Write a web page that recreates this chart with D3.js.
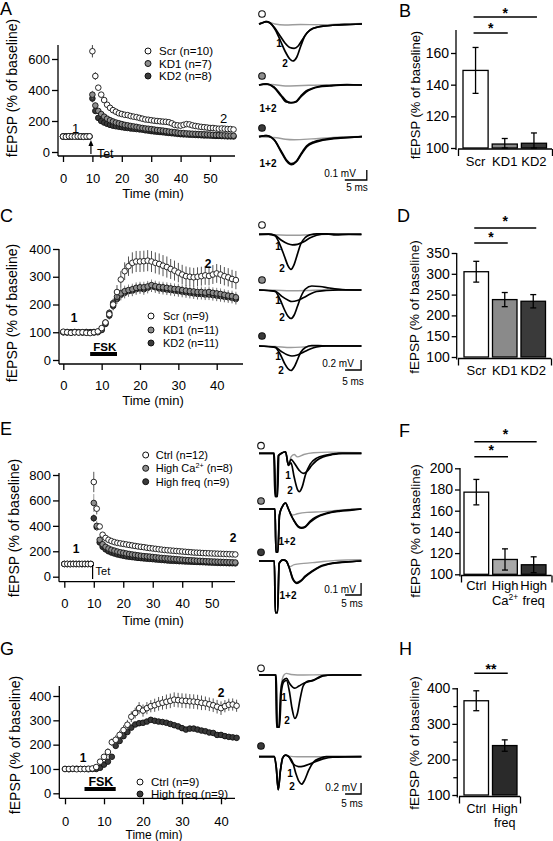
<!DOCTYPE html>
<html><head><meta charset="utf-8">
<script src="https://cdn.jsdelivr.net/npm/d3@7/dist/d3.min.js"></script>
<style>html,body{margin:0;padding:0;background:#fff;}svg{display:block;}</style>
</head><body>
<svg id="fig" width="553" height="841"></svg>
<script>
// ===================== DATA =====================
// Time-course values, one per minute (index = minute)
const aScr = [100,98,102,100,99,101,100,98,100,101, 650,490,415,370,335,305,285,270,260,250, 245,240,238,232,228,225,220,215,210,208, 205,202,200,198,196,195,192,185,175,172, 170,175,180,178,172,168,165,162,160,158, 155,155,152,150,152,150,148,148,145];
const aScrErr = [5,5,5,5,5,5,5,5,5,5, 40,25,15,12,10,10,9,9,8,8, 8,8,8,8,8,8,8,8,8,8, 8,8,8,8,8,8,8,8,8,8, 8,8,8,8,8,8,8,8,8,8, 8,8,8,8,8,8,8,8,8];
const aKD1 = [100,101,99,100,100,99,101,100,99,100, 370,300,265,245,228,215,205,197,190,185, 180,175,172,168,165,162,158,155,152,150, 148,145,142,140,138,135,132,130,128,125, 122,122,120,119,118,117,116,115,114,113, 112,111,110,109,108,107,106,106,105];
const aKD2 = [100,99,100,101,100,100,99,100,101,100, 345,265,220,200,190,182,175,170,166,163, 160,157,155,152,150,148,146,144,140,138, 135,133,131,129,127,125,123,121,119,117, 115,114,113,112,111,110,109,108,107,107, 106,105,104,104,103,102,101,101,100];
const aKDErr = [4,4,4,4,4,4,4,4,4,4, 25,18,12,10,8,8,8,8,8,8, 8,8,8,8,8,8,8,8,8,8, 8,8,8,8,8,8,8,8,8,8, 8,8,8,8,8,8,8,8,8,8, 8,8,8,8,8,8,8,8,8];

const cScr = [102,100,98,100,99,100,98,97,100,103, 115,135,165,200,245,290,320,338,350,355, 355,356,358,355,350,346,340,335,328,322, 315,308,302,300,298,300,302,305,303,308, 312,308,302,298,292,288];
const cScrErr = [8,8,8,8,8,8,8,8,8,8, 10,12,15,20,25,30,32,35,38,38, 38,38,38,38,38,38,38,38,36,36, 35,35,35,34,34,34,34,34,34,34, 34,34,33,33,33,33];
const cKD1 = [100,101,99,100,100,99,101,100,99,102, 110,135,170,205,228,240,248,252,255,260, 262,262,265,270,266,263,262,260,258,256, 255,252,250,248,247,245,245,243,245,242, 240,238,235,232,230,226];
const cKD2 = [100,99,100,101,100,100,99,100,101,100, 108,130,160,195,220,235,242,248,250,255, 258,255,260,265,262,258,256,254,252,250, 248,246,244,242,240,238,238,236,236,234, 232,230,228,226,224,220];
const cKDErr = [5,5,5,5,5,5,5,5,5,6, 8,10,14,16,18,20,20,20,20,20, 20,20,20,20,20,20,20,20,20,20, 20,20,20,20,20,20,20,20,20,20, 20,20,20,20,20,20];

const eCtrl = [100,101,99,100,100,99,101,100,99,100, 745,535,395,330,305,290,280,272,266,262, 258,254,250,246,242,238,235,232,228,225, 222,219,216,213,210,208,206,204,202,200, 198,196,194,192,190,189,188,186,185,184, 183,182,181,180,179,178,177,176,175];
const eCtrlErr = [5,5,5,5,5,5,5,5,5,5, 80,45,20,15,12,10,10,9,9,9, 9,9,9,9,9,9,9,9,9,9, 9,9,9,9,9,9,9,9,9,9, 9,9,9,9,9,9,9,9,9,9, 9,9,9,9,9,9,9,9,9];
const eCa = [100,99,101,100,100,101,99,100,100,100, 580,400,290,255,235,222,212,205,198,192, 188,183,179,175,172,168,165,162,160,158, 155,153,150,148,146,144,142,140,138,136, 134,132,130,129,128,126,125,124,122,121, 120,119,118,117,116,115,114,113,112];
const eCaErr = [5,5,5,5,5,5,5,5,5,5, 70,40,20,12,10,9,9,8,8,8, 8,8,8,8,8,8,8,8,8,8, 8,8,8,8,8,8,8,8,8,8, 8,8,8,8,8,8,8,8,8,8, 8,8,8,8,8,8,8,8,8];
const eHF = [100,100,99,101,100,100,99,100,101,100, 460,390,270,235,215,200,190,182,175,170, 165,160,157,154,151,148,146,144,142,140, 138,136,134,132,130,128,126,125,124,122, 121,120,119,118,117,116,115,114,113,112, 111,110,109,108,108,107,106,106,105];
const eHFErr = [5,5,5,5,5,5,5,5,5,5, 30,30,15,10,9,8,8,8,8,8, 8,8,8,8,8,8,8,8,8,8, 8,8,8,8,8,8,8,8,8,8, 8,8,8,8,8,8,8,8,8,8, 8,8,8,8,8,8,8,8,8];

const gCtrl = [100,100,101,99,100,100,101,102,108,130, 150,170,210,220,240,260,282,315,330,350, 340,350,358,362,368,372,376,380,385,383, 381,380,378,377,375,372,370,366,362,356, 350,358,364,365,360];
const gCtrlErr = [5,5,5,5,5,5,5,5,8,10, 12,15,15,18,18,20,20,22,22,25, 25,25,25,27,28,28,30,30,30,30, 30,30,30,30,30,30,28,28,28,28, 28,25,25,25,25];
const gHF = [100,99,100,101,100,100,99,100,100,105, 118,130,150,195,215,235,252,270,283,288, 290,295,302,298,295,293,290,285,280,275, 268,262,266,266,262,258,255,250,248,240, 240,235,232,230,228];
const gHFErr = [4,4,4,4,4,4,4,4,4,5, 6,8,10,10,10,10,10,10,10,10, 10,10,10,10,10,10,10,10,10,10, 10,10,10,10,10,10,10,10,10,10, 10,10,10,10,10];

// Axis ticks
const ticksA_y = [0,200,400,600], ticksA_x = [0,10,20,30,40,50];
const ticksC_y = [0,100,200,300,400], ticksC_x = [0,10,20,30,40];
const ticksE_y = [0,200,400,600,800], ticksE_x = [0,10,20,30,40,50];
const ticksG_y = [0,100,200,300,400], ticksG_x = [0,10,20,30,40];

// Bar charts
const bCats = ['Scr','KD1','KD2'], bVals = [149,102.5,103], bErr = [14.5,3.5,6.5];
const bTicks = [100,120,140,160];
const dCats = ['Scr','KD1','KD2'], dVals = [305,238,234], dErr = [25,17,16];
const dTicks = [100,150,200,250,300,350];
const fCats = ['Ctrl','HighCa','HighFreq'], fVals = [177.5,114,109], fErr = [12,10,7.5];
const fTicks = [100,120,140,160,180,200];
const hCats = ['Ctrl','HighFreq'], hVals = [365,239], hErr = [28,16];
const hTicks = [100,150,200,250,300,350,400];

// Example traces [ms, mV relative to baseline]
const trA_scr_g = [[0,0],[1.6,0.023],[2.5,0.015],[3.6,0],[5.9,-0.01],[9.4,-0.005],[14,-0.008],[18.4,0],[23.4,0.005]];
const trA_scr_1 = [[0,0],[0.7,0.01],[1.6,0.023],[2.5,0.01],[3.6,-0.04],[4.8,-0.12],[5.9,-0.19],[7.0,-0.235],[8.0,-0.243],[8.9,-0.22],[9.8,-0.16],[10.9,-0.09],[12,-0.05],[13.4,-0.03],[15,-0.02],[17.3,-0.01],[20.7,-0.005],[23.4,0]];
const trA_scr_2 = [[0,0],[0.7,0.01],[1.6,0.023],[2.5,0.01],[3.6,-0.05],[4.8,-0.16],[5.9,-0.27],[7.0,-0.35],[7.7,-0.37],[8.6,-0.33],[9.5,-0.22],[10.4,-0.12],[11.6,-0.06],[13.4,-0.03],[15,-0.02],[17.3,-0.01],[20.7,-0.005],[23.4,0]];
const trA_kd1_g = [[0,0],[3,0.005],[6,-0.01],[10,-0.005],[15,0],[23.4,0]];
const trA_kd1_1 = [[0,0],[1.6,0.01],[3.4,-0.02],[5,-0.1],[6.2,-0.16],[7.3,-0.18],[8.4,-0.17],[9.5,-0.12],[10.7,-0.07],[12,-0.04],[13.6,-0.02],[16,-0.01],[20,0],[23.4,0]];
const trA_kd1_2 = [[0,0],[1.6,0.012],[3.4,-0.025],[5,-0.11],[6.2,-0.17],[7.3,-0.175],[8.4,-0.165],[9.5,-0.11],[10.7,-0.06],[12,-0.035],[13.6,-0.015],[16,-0.005],[20,0.005],[23.4,0]];
const trA_kd2_g = [[0,0],[4,-0.01],[6,-0.025],[8,-0.03],[12,-0.022],[16,-0.01],[20,0],[23.4,0.003]];
const trA_kd2_1 = [[0,0],[1.6,0.01],[3.4,-0.03],[5,-0.15],[6.2,-0.24],[7.4,-0.28],[8.5,-0.25],[9.7,-0.17],[10.9,-0.1],[12.5,-0.06],[14.5,-0.035],[17,-0.02],[20,-0.01],[23.4,0]];
const trA_kd2_2 = [[0,0],[1.6,0.01],[3.4,-0.03],[5,-0.14],[6.2,-0.23],[7.4,-0.27],[8.5,-0.245],[9.7,-0.16],[10.9,-0.09],[12.5,-0.05],[14.5,-0.03],[17,-0.015],[20,-0.008],[23.4,0]];

const trC_scr_g = [[0,0],[5,-0.01],[10,-0.02],[16,-0.01],[22,0],[32,0]];
const trC_scr_1 = [[0,0],[3,0.005],[5,-0.02],[7,-0.12],[9,-0.19],[10.4,-0.21],[12,-0.2],[14,-0.15],[16,-0.07],[18,-0.02],[21,0.01],[24,-0.01],[28,0],[32,0]];
const trC_scr_2 = [[0,0],[3,0.005],[5,-0.03],[6.5,-0.2],[8,-0.45],[9,-0.62],[10,-0.7],[11,-0.6],[12,-0.4],[13,-0.2],[14.5,-0.06],[16,-0.01],[18,0.01],[22,0.005],[32,0]];
const trC_kd1_g = [[0,0],[5,-0.005],[10,-0.015],[15,-0.01],[20,0],[32,0]];
const trC_kd1_1 = [[0,0],[5,-0.02],[7,-0.12],[9,-0.2],[10.3,-0.23],[12,-0.21],[14,-0.15],[16,-0.08],[18,-0.03],[21,-0.01],[25,0],[32,0]];
const trC_kd1_2 = [[0,0],[5,-0.03],[6.5,-0.18],[8,-0.4],[9,-0.52],[10,-0.57],[11,-0.5],[12,-0.33],[13,-0.15],[14.5,0.02],[16.5,0.08],[19,0.07],[22,0.04],[26,0.01],[32,0]];
const trC_kd2_g = [[0,0],[5,-0.01],[10,-0.03],[14,-0.02],[18,-0.005],[32,0]];
const trC_kd2_1 = [[0,0],[5,-0.02],[7,-0.11],[9,-0.18],[10.3,-0.2],[12,-0.18],[14,-0.12],[16,-0.06],[18,-0.02],[21,0],[32,0]];
const trC_kd2_2 = [[0,0],[5,-0.03],[6.5,-0.15],[8,-0.35],[9,-0.45],[10,-0.49],[11,-0.42],[12,-0.28],[13,-0.13],[14.5,-0.03],[16.5,0.01],[20,0.005],[32,0]];

const trE_ctrl_g = [[0,0],[4.7,0],[5.1,-0.36],[5.7,-0.36],[6.1,-0.02],[7,0],[8.3,0.013],[9.2,-0.1],[10,-0.03],[11,-0.01],[12,-0.03],[14,-0.01],[17,0.005],[22,0.01],[32,0.005]];
const trE_ctrl_1 = [[0,0],[4.6,0],[5,-0.36],[5.6,-0.36],[6,-0.02],[7,0],[8.3,0.013],[9.2,-0.1],[10,-0.05],[11,-0.08],[12.5,-0.14],[13.8,-0.167],[15,-0.15],[16.5,-0.1],[18,-0.06],[20,-0.03],[23,-0.01],[26,0],[32,0]];
const trE_ctrl_2 = [[0,0],[4.8,0],[5.2,-0.36],[5.8,-0.36],[6.2,-0.02],[7,0],[8.3,0.013],[9.2,-0.1],[10,-0.08],[11,-0.2],[12,-0.3],[12.6,-0.32],[13.5,-0.28],[14.5,-0.18],[16,-0.09],[18,-0.04],[21,-0.015],[25,0],[32,0]];
const trE_ca_g = [[0,0],[5,0],[5.3,-0.36],[5.9,-0.36],[6.4,-0.05],[7.3,0.02],[8.3,0.05],[9.2,0],[10.5,-0.05],[12,-0.04],[15,-0.028],[20,-0.022],[25,-0.01],[32,0]];
const trE_ca_1 = [[0,0],[5,0],[5.3,-0.36],[5.9,-0.36],[6.4,-0.05],[7.3,0.02],[8.3,0.05],[9.2,0],[10,-0.05],[11,-0.1],[12.3,-0.15],[13.3,-0.16],[14.5,-0.15],[16,-0.11],[18,-0.07],[21,-0.04],[25,-0.02],[29,-0.01],[32,0]];
const trE_ca_2 = [[0,0],[5,0],[5.3,-0.36],[5.9,-0.36],[6.4,-0.05],[7.3,0.02],[8.3,0.05],[9.2,0],[10,-0.05],[11,-0.1],[12.3,-0.145],[13.3,-0.155],[14.5,-0.145],[16,-0.1],[18,-0.065],[21,-0.035],[25,-0.015],[29,-0.005],[32,0]];
const trE_hf_g = [[0,0],[4.8,0],[5.1,-0.43],[5.8,-0.43],[6.3,-0.02],[7.5,0.01],[8.5,0],[9.5,-0.05],[11,-0.03],[14,-0.02],[18,-0.01],[24,0.005],[32,0.01]];
const trE_hf_1 = [[0,0],[4.8,0],[5.1,-0.43],[5.8,-0.43],[6.3,-0.02],[7.5,0.01],[8.5,0],[9.5,-0.06],[10.5,-0.15],[11.8,-0.186],[13,-0.17],[14.5,-0.13],[16.5,-0.09],[19,-0.05],[23,-0.02],[27,-0.01],[32,0]];
const trE_hf_2 = [[0,0],[4.8,0],[5.1,-0.43],[5.8,-0.43],[6.3,-0.02],[7.5,0.01],[8.5,0],[9.5,-0.06],[10.5,-0.14],[11.8,-0.18],[13,-0.165],[14.5,-0.125],[16.5,-0.085],[19,-0.045],[23,-0.018],[27,-0.008],[32,0]];

const trG_ctrl_g = [[0,0],[5.3,0],[5.6,-0.95],[6.3,-0.95],[6.9,-0.2],[7.8,0],[8.6,0.03],[10,0.01],[14,0],[20,0.005],[32,0]];
const trG_ctrl_1 = [[0,0],[5.2,0],[5.5,-0.95],[6.2,-0.95],[6.8,-0.3],[7.5,-0.1],[8.6,-0.06],[9.5,-0.15],[10.5,-0.22],[11.2,-0.24],[12.5,-0.2],[14,-0.15],[15.5,-0.12],[17,-0.1],[18.4,-0.05],[20,-0.01],[23,0],[32,0]];
const trG_ctrl_2 = [[0,0],[5.4,0],[5.7,-0.95],[6.4,-0.95],[7,-0.3],[7.8,-0.12],[8.6,-0.1],[9.5,-0.3],[10.3,-0.6],[11.2,-0.79],[12,-0.7],[12.8,-0.45],[13.8,-0.2],[15,-0.12],[16.5,-0.1],[18.4,-0.06],[20,-0.015],[23,0],[32,0]];
const trG_hf_g = [[0,0],[4.8,0],[5.4,-0.2],[6,-0.6],[6.7,-0.25],[7.4,-0.02],[8.3,0.03],[9.3,0.01],[12,0],[20,0],[32,0]];
const trG_hf_1 = [[0,0],[4.8,0],[5.4,-0.2],[6,-0.6],[6.7,-0.25],[7.4,-0.02],[8.3,0.03],[9.3,0],[10.5,-0.12],[12.3,-0.18],[14,-0.17],[16,-0.13],[18,-0.08],[20,-0.04],[23,-0.01],[32,0]];
const trG_hf_2 = [[0,0],[4.8,0],[5.4,-0.2],[6,-0.6],[6.7,-0.25],[7.4,-0.02],[8.3,0.03],[9.3,0],[10.5,-0.1],[11.5,-0.3],[12.5,-0.45],[13.3,-0.5],[14.3,-0.42],[15.5,-0.25],[17,-0.1],[19,-0.03],[21,0],[32,0]];

// ===================== DRAWING =====================
const FONT = '"Liberation Sans", Arial, Helvetica, sans-serif';
const svg = d3.select('#fig').attr('font-family', FONT);
const WHITE = '#ffffff', GRAY = '#8e8e8e', DARK = '#3a3a3a';

function text(x, y, s, size, opt = {}) {
  const t = svg.append('text').attr('x', x).attr('y', y).attr('font-size', size)
    .attr('text-anchor', opt.anchor || 'start').attr('fill', '#000').text(s);
  if (opt.bold) t.attr('font-weight', 'bold');
  return t;
}
function ylabel(x, y, size) {
  svg.append('text').attr('transform', `translate(${x},${y}) rotate(-90)`)
    .attr('text-anchor', 'middle').attr('font-size', size).attr('fill', '#000').text('fEPSP (% of baseline)');
}
function styleAxis(g, size) {
  g.attr('font-family', FONT).attr('font-size', size);
  g.selectAll('.tick line').attr('stroke', '#000').attr('stroke-width', 1.3);
  g.selectAll('.tick text').attr('fill', '#000');
}
function hline(x1, x2, y, w) {
  svg.append('line').attr('x1', x1).attr('x2', x2).attr('y1', y).attr('y2', y).attr('stroke', '#000').attr('stroke-width', w || 1.3);
}
function vline(x, y1, y2, w) {
  svg.append('line').attr('x1', x).attr('x2', x).attr('y1', y1).attr('y2', y2).attr('stroke', '#000').attr('stroke-width', w || 1.3);
}

function timePanel(p) {
  const x = d3.scaleLinear(p.xDomain, p.xRange);
  const y = d3.scaleLinear(p.yDomain, p.yRange);
  const gy = svg.append('g').attr('transform', `translate(${p.axisX},0)`)
    .call(d3.axisLeft(y).tickValues(p.yTicks).tickSize(6).tickPadding(2));
  gy.select('.domain').remove();
  styleAxis(gy, p.tickFont);
  vline(p.axisX, p.yTop, p.xAxisY);
  const gx = svg.append('g').attr('transform', `translate(0,${p.xAxisY})`)
    .call(d3.axisBottom(x).tickValues(p.xTicks).tickSize(6));
  gx.select('.domain').remove();
  styleAxis(gx, p.tickFont);
  gx.selectAll('.tick text').attr('dy', null).attr('y', p.xLabelBase - p.xAxisY);
  hline(p.axisX, p.xEnd, p.xAxisY);
  p.series.forEach(s => {
    const pts = s.values.map((v, i) => ({ t: i, v: v, e: s.err[i] }));
    const g = svg.append('g');
    g.selectAll('line').data(pts).join('line')
      .attr('x1', d => x(d.t)).attr('x2', d => x(d.t))
      .attr('y1', d => y(d.v + d.e)).attr('y2', d => y(d.v - d.e))
      .attr('stroke', s.errColor).attr('stroke-width', 1);
    g.selectAll('circle').data(pts).join('circle')
      .attr('cx', d => x(d.t)).attr('cy', d => y(d.v)).attr('r', p.r)
      .attr('fill', s.fill).attr('stroke', '#111').attr('stroke-width', 0.9);
  });
  p.legend.forEach((l, i) => {
    svg.append('circle').attr('cx', p.legX).attr('cy', p.legY[i]).attr('r', 3)
      .attr('fill', l.fill).attr('stroke', '#111').attr('stroke-width', 1);
    const t = svg.append('text').attr('x', p.legX + p.legDx).attr('y', p.legY[i] + p.legFont * 0.36)
      .attr('font-size', p.legFont).attr('fill', '#000');
    l.parts.forEach(part => {
      const ts = t.append('tspan').text(part.s);
      if (part.sup) ts.attr('baseline-shift', 'super').attr('font-size', p.legFont * 0.65);
    });
  });
  text(p.timeX, p.timeBase, 'Time (min)', p.timeFont, { anchor: 'middle' });
  return { x, y };
}

function barPanel(p) {
  const x = d3.scaleBand().domain(p.cats).range(p.xRange).paddingInner(0.14).paddingOuter(0);
  const y = d3.scaleLinear(p.yDomain, p.yRange);
  const gy = svg.append('g').attr('transform', `translate(${p.axisX},0)`)
    .call(d3.axisLeft(y).tickValues(p.ticks).tickSize(p.tickLen).tickPadding(2)
      .tickFormat(d => (p.labelEvery && d % p.labelEvery !== 0) ? '' : d));
  gy.select('.domain').remove();
  styleAxis(gy, p.tickFont);
  if (p.labelEvery) gy.selectAll('.tick').filter(d => d % p.labelEvery !== 0).select('line').attr('x2', -4);
  vline(p.axisX, p.yTop, p.xAxisY + 1);
  const xe = d3.scaleLinear([0, 1], [p.xAxisStart, p.xAxisEnd]);
  const gx = svg.append('g').attr('transform', `translate(0,${p.xAxisY})`)
    .call(d3.axisBottom(xe).tickValues([0, 1]).tickSize(7).tickFormat(''));
  gx.select('.domain').attr('stroke', '#000').attr('stroke-width', 1.3).attr('d', `M${p.xAxisStart},0H${p.xAxisEnd}`);
  styleAxis(gx, p.tickFont);
  svg.append('g').selectAll('rect').data(p.cats).join('rect')
    .attr('x', d => x(d)).attr('width', x.bandwidth())
    .attr('y', (d, i) => y(p.vals[i])).attr('height', (d, i) => y(p.yDomain[0]) - y(p.vals[i]))
    .attr('fill', (d, i) => p.fills[i]).attr('stroke', '#000').attr('stroke-width', 1.3);
  const eg = svg.append('g').attr('stroke', '#000').attr('stroke-width', 1.3);
  p.cats.forEach((c, i) => {
    const cx = x(c) + x.bandwidth() / 2;
    const t = y(p.vals[i] + p.err[i]), b = y(Math.max(p.vals[i] - p.err[i], p.yDomain[0]));
    eg.append('line').attr('x1', cx).attr('x2', cx).attr('y1', t).attr('y2', b);
    eg.append('line').attr('x1', cx - 3).attr('x2', cx + 3).attr('y1', t).attr('y2', t);
    eg.append('line').attr('x1', cx - 3).attr('x2', cx + 3).attr('y1', b).attr('y2', b);
  });
  p.cats.forEach((c, i) => {
    const cx = x(c) + x.bandwidth() / 2;
    p.labels[i].forEach((line, j) => {
      const t = svg.append('text').attr('x', cx).attr('y', p.labelBase + j * p.labelStep)
        .attr('text-anchor', 'middle').attr('font-size', p.catFont).attr('fill', '#000');
      line.forEach(part => {
        const ts = t.append('tspan').text(part.s);
        if (part.sup) ts.attr('baseline-shift', 'super').attr('font-size', p.catFont * 0.65);
      });
    });
  });
  p.sig.forEach(s => {
    const x1 = x(p.cats[s.from]) + x.bandwidth() / 2 - 2;
    const x2 = x(p.cats[s.to]) + x.bandwidth() / 2 + 3;
    hline(x1, x2, s.y, 1.5);
    text((x1 + x2) / 2, s.starBase, s.mark, 14, { anchor: 'middle', bold: true });
  });
  return { x, y };
}

function traceSet(p) {
  const x = d3.scaleLinear([0, 1], [p.x0, p.x0 + p.pxPerMs]);
  p.rows.forEach(r => {
    const y = d3.scaleLinear([0, 1], [r.base, r.base - p.pxPerMV]);
    const line = d3.line().x(d => x(d[0])).y(d => y(d[1])).curve(d3.curveMonotoneX);
    svg.append('path').attr('d', line(r.gray)).attr('fill', 'none').attr('stroke', '#9c9c9c').attr('stroke-width', 1.4);
    r.black.forEach(tr => svg.append('path').attr('d', line(tr)).attr('fill', 'none')
      .attr('stroke', '#000').attr('stroke-width', 1.7).attr('stroke-linejoin', 'round'));
    svg.append('circle').attr('cx', p.cx).attr('cy', r.cy).attr('r', 3.3)
      .attr('fill', r.fill).attr('stroke', '#111').attr('stroke-width', 1.1);
    r.labels.forEach(l => text(l[0], l[1], l[2], 10, { anchor: 'middle', bold: true }));
  });
  const sb = p.scale;
  const yb = d3.scaleLinear([0, 1], [sb.y, sb.y - p.pxPerMV]);
  const xr = x(sb.t0 + sb.ms);
  svg.append('path').attr('d', `M${x(sb.t0)},${sb.y}H${xr}V${yb(sb.mv)}`)
    .attr('fill', 'none').attr('stroke', '#000').attr('stroke-width', 1.3);
  text(sb.mvX, sb.mvBase, sb.mvText, 10, { anchor: 'middle' });
  text(sb.msX, sb.msBase, sb.ms + ' ms', 10, { anchor: 'middle' });
}

// ---------- Panel A ----------
const pA = timePanel({
  xDomain: [0, 50], xRange: [63, 210], yDomain: [0, 600], yRange: [152, 59],
  axisX: 58, yTop: 45, xAxisY: 156, xEnd: 235, yTicks: ticksA_y, xTicks: ticksA_x,
  xLabelBase: 182.5, tickFont: 13, r: 2.8,
  series: [
    { values: aKD2, err: aKDErr, fill: DARK, errColor: '#666' },
    { values: aKD1, err: aKDErr, fill: GRAY, errColor: '#888' },
    { values: aScr, err: aScrErr, fill: WHITE, errColor: '#444' }],
  legend: [
    { fill: WHITE, parts: [{ s: 'Scr (n=10)' }] },
    { fill: GRAY, parts: [{ s: 'KD1 (n=7)' }] },
    { fill: DARK, parts: [{ s: 'KD2 (n=8)' }] }],
  legX: 148, legY: [51, 63.5, 76], legDx: 11, legFont: 11.5,
  timeX: 153, timeBase: 198, timeFont: 13
});
ylabel(17, 88, 14);
text(72, 133, '1', 13); text(220, 123, '2', 13);
{
  const ax = pA.x(9.5);
  vline(ax, 144, 154, 1.2);
  svg.append('path').attr('d', `M${ax - 2.5},${146}L${ax},${140}L${ax + 2.5},${146}Z`).attr('fill', '#000');
  text(ax + 6, 158, 'Tet', 12.5);
}
text(0, 15, 'A', 18);

// ---------- Panel B ----------
barPanel({
  cats: bCats, vals: bVals, err: bErr, xRange: [463, 546.5],
  yDomain: [100, 160], yRange: [148, 53], ticks: bTicks, tickLen: 5, tickFont: 14,
  axisX: 456, yTop: 30, xAxisY: 149, xAxisStart: 458, xAxisEnd: 552,
  fills: ['#ffffff', '#8a8a8a', '#3a3a3a'],
  labels: [[[{ s: 'Scr' }]], [[{ s: 'KD1' }]], [[{ s: 'KD2' }]]], labelBase: 166, labelStep: 14, catFont: 13,
  sig: [{ from: 0, to: 2, y: 17, starBase: 17.5, mark: '*' }, { from: 0, to: 1, y: 33, starBase: 32.5, mark: '*' }]
});
ylabel(420, 95, 13);
text(399, 17, 'B', 18);

// ---------- Panel C ----------
const pC = timePanel({
  xDomain: [0, 40], xRange: [63.3, 216.7], yDomain: [0, 400], yRange: [360, 249],
  axisX: 59, yTop: 249, xAxisY: 364, xEnd: 243, yTicks: ticksC_y, xTicks: ticksC_x,
  xLabelBase: 390, tickFont: 13, r: 2.8,
  series: [
    { values: cKD2, err: cKDErr, fill: DARK, errColor: '#666' },
    { values: cKD1, err: cKDErr, fill: GRAY, errColor: '#888' },
    { values: cScr, err: cScrErr, fill: WHITE, errColor: '#555' }],
  legend: [
    { fill: WHITE, parts: [{ s: 'Scr (n=9)' }] },
    { fill: GRAY, parts: [{ s: 'KD1 (n=11)' }] },
    { fill: DARK, parts: [{ s: 'KD2 (n=11)' }] }],
  legX: 151, legY: [316, 330, 343], legDx: 12, legFont: 11,
  timeX: 153, timeBase: 405, timeFont: 13
});
ylabel(17, 313, 14);
text(74, 321.5, '1', 12, { anchor: 'middle', bold: true });
text(208, 267.5, '2', 12, { anchor: 'middle', bold: true });
hline(pC.x(7), pC.x(14), 354, 4);
text(pC.x(10.8), 350.5, 'FSK', 11.5, { anchor: 'middle', bold: true });
text(0, 222, 'C', 18);

// ---------- Panel D ----------
barPanel({
  cats: dCats, vals: dVals, err: dErr, xRange: [464, 545.5],
  yDomain: [100, 350], yRange: [357, 253], ticks: dTicks, tickLen: 5, tickFont: 14,
  axisX: 456.7, yTop: 253, xAxisY: 358.5, xAxisStart: 458, xAxisEnd: 551,
  fills: ['#ffffff', '#8a8a8a', '#3a3a3a'],
  labels: [[[{ s: 'Scr' }]], [[{ s: 'KD1' }]], [[{ s: 'KD2' }]]], labelBase: 375, labelStep: 14, catFont: 13,
  sig: [{ from: 0, to: 2, y: 228, starBase: 225.5, mark: '*' }, { from: 0, to: 1, y: 243, starBase: 241.5, mark: '*' }]
});
ylabel(419, 307, 13.5);
text(397, 222, 'D', 18);

// ---------- Panel E ----------
const pE = timePanel({
  xDomain: [0, 50], xRange: [64.3, 211.7], yDomain: [0, 800], yRange: [576.7, 475],
  axisX: 59, yTop: 473, xAxisY: 581.7, xEnd: 235, yTicks: ticksE_y, xTicks: ticksE_x,
  xLabelBase: 608, tickFont: 13, r: 2.8,
  series: [
    { values: eHF, err: eHFErr, fill: DARK, errColor: '#666' },
    { values: eCa, err: eCaErr, fill: GRAY, errColor: '#999' },
    { values: eCtrl, err: eCtrlErr, fill: WHITE, errColor: '#555' }],
  legend: [
    { fill: WHITE, parts: [{ s: 'Ctrl (n=12)' }] },
    { fill: GRAY, parts: [{ s: 'High Ca' }, { s: '2+', sup: true }, { s: ' (n=8)' }] },
    { fill: DARK, parts: [{ s: 'High freq (n=9)' }] }],
  legX: 145.7, legY: [455, 468.3, 481.7], legDx: 10, legFont: 11,
  timeX: 153, timeBase: 625, timeFont: 13
});
ylabel(19, 528, 14);
text(76, 553, '1', 12, { anchor: 'middle', bold: true });
text(233, 542, '2', 12, { anchor: 'middle', bold: true });
{
  const ex = pE.x(9.6);
  vline(ex, 565, 579, 1.2);
  text(ex + 3, 575, 'Tet', 11);
}
text(0, 435, 'E', 18);

// ---------- Panel F ----------
barPanel({
  cats: fCats, vals: fVals, err: fErr, xRange: [464, 546],
  yDomain: [100, 200], yRange: [574.3, 468.3], ticks: fTicks, tickLen: 5, tickFont: 14,
  axisX: 460, yTop: 468, xAxisY: 575.5, xAxisStart: 461, xAxisEnd: 551.5,
  fills: ['#ffffff', '#a8a8a8', '#333333'],
  labels: [[[{ s: 'Ctrl' }]], [[{ s: 'High' }], [{ s: 'Ca' }, { s: '2+', sup: true }]], [[{ s: 'High' }], [{ s: 'freq' }]]],
  labelBase: 590, labelStep: 15, catFont: 13,
  sig: [{ from: 0, to: 2, y: 441.7, starBase: 439.4, mark: '*' }, { from: 0, to: 1, y: 456.7, starBase: 454.7, mark: '*' }]
});
ylabel(420, 531, 13.5);
text(399, 437, 'F', 18);

// ---------- Panel G ----------
const pG = timePanel({
  xDomain: [0, 40], xRange: [65, 221], yDomain: [0, 400], yRange: [793.3, 696],
  axisX: 59.3, yTop: 686, xAxisY: 798.3, xEnd: 235, yTicks: ticksG_y, xTicks: ticksG_x,
  xLabelBase: 826, tickFont: 13, r: 2.8,
  series: [
    { values: gHF, err: gHFErr, fill: DARK, errColor: '#666' },
    { values: gCtrl, err: gCtrlErr, fill: WHITE, errColor: '#555' }],
  legend: [
    { fill: WHITE, parts: [{ s: 'Ctrl (n=9)' }] },
    { fill: DARK, parts: [{ s: 'High freq (n=9)' }] }],
  legX: 140, legY: [782, 794], legDx: 11, legFont: 11.5,
  timeX: 154, timeBase: 839, timeFont: 12
});
ylabel(20, 745, 14);
text(83, 762, '1', 12, { anchor: 'middle', bold: true });
text(221, 697, '2', 12, { anchor: 'middle', bold: true });
hline(pG.x(5), pG.x(13), 789, 4);
text(pG.x(9.2), 785.5, 'FSK', 12.5, { anchor: 'middle', bold: true });
text(0, 655, 'G', 18);

// ---------- Panel H ----------
barPanel({
  cats: hCats, vals: hVals, err: hErr, xRange: [464, 517],
  yDomain: [100, 400], yRange: [795, 688.3], ticks: hTicks, tickLen: 5, tickFont: 14, labelEvery: 100,
  axisX: 457.3, yTop: 688, xAxisY: 796.5, xAxisStart: 459, xAxisEnd: 520,
  fills: ['#ffffff', '#2a2a2a'],
  labels: [[[{ s: 'Ctrl' }]], [[{ s: 'High' }], [{ s: 'freq' }]]], labelBase: 813, labelStep: 14, catFont: 12.5,
  sig: [{ from: 0, to: 1, y: 673.3, starBase: 674, mark: '**' }]
});
ylabel(419, 743, 13.5);
text(399, 655, 'H', 18);

// ---------- Traces ----------
traceSet({
  x0: 259, pxPerMs: 4.4, pxPerMV: 100, cx: 262,
  rows: [
    { base: 24, cy: 14, fill: WHITE, gray: trA_scr_g, black: [trA_scr_1, trA_scr_2], labels: [[279, 47, '1'], [285, 67, '2']] },
    { base: 85, cy: 76, fill: GRAY, gray: trA_kd1_g, black: [trA_kd1_1, trA_kd1_2], labels: [[268, 112, '1+2']] },
    { base: 136.7, cy: 128, fill: DARK, gray: trA_kd2_g, black: [trA_kd2_1, trA_kd2_2], labels: [[268, 167, '1+2']] }],
  scale: { t0: 19.5, ms: 5, y: 180, mv: 0.1, mvText: '0.1 mV', mvX: 340, mvBase: 177, msX: 357, msBase: 191 }
});
traceSet({
  x0: 259, pxPerMs: 3.2, pxPerMV: 50, cx: 262,
  rows: [
    { base: 234.3, cy: 225, fill: WHITE, gray: trC_scr_g, black: [trC_scr_1, trC_scr_2], labels: [[278, 250, '1'], [282, 272, '2']] },
    { base: 290, cy: 280, fill: GRAY, gray: trC_kd1_g, black: [trC_kd1_1, trC_kd1_2], labels: [[278, 304, '1'], [282, 321, '2']] },
    { base: 346, cy: 336, fill: DARK, gray: trC_kd2_g, black: [trC_kd2_1, trC_kd2_2], labels: [[278, 360, '1'], [281, 374, '2']] }],
  scale: { t0: 26.9, ms: 5, y: 370, mv: 0.2, mvText: '0.2 mV', mvX: 338, mvBase: 367, msX: 353, msBase: 385 }
});
traceSet({
  x0: 259, pxPerMs: 3.2, pxPerMV: 120, cx: 261,
  rows: [
    { base: 453.3, cy: 445.7, fill: WHITE, gray: trE_ctrl_g, black: [trE_ctrl_1, trE_ctrl_2], labels: [[288, 479, '1'], [290, 494, '2']] },
    { base: 509, cy: 501, fill: GRAY, gray: trE_ca_g, black: [trE_ca_1, trE_ca_2], labels: [[287, 545, '1+2']] },
    { base: 561, cy: 552.3, fill: DARK, gray: trE_hf_g, black: [trE_hf_1, trE_hf_2], labels: [[288, 599, '1+2']] }],
  scale: { t0: 26.9, ms: 5, y: 595, mv: 0.1, mvText: '0.1 mV', mvX: 340, mvBase: 593, msX: 352, msBase: 607 }
});
traceSet({
  x0: 259, pxPerMs: 3.2, pxPerMV: 55, cx: 261,
  rows: [
    { base: 675, cy: 668.3, fill: WHITE, gray: trG_ctrl_g, black: [trG_ctrl_1, trG_ctrl_2], labels: [[284, 701, '1'], [287, 724, '2']] },
    { base: 756.7, cy: 746, fill: DARK, gray: trG_hf_g, black: [trG_hf_1, trG_hf_2], labels: [[290, 777, '1'], [292, 790, '2']] }],
  scale: { t0: 26.9, ms: 5, y: 794, mv: 0.2, mvText: '0.2 mV', mvX: 341, mvBase: 791, msX: 352, msBase: 807 }
});
</script>
</body></html>
